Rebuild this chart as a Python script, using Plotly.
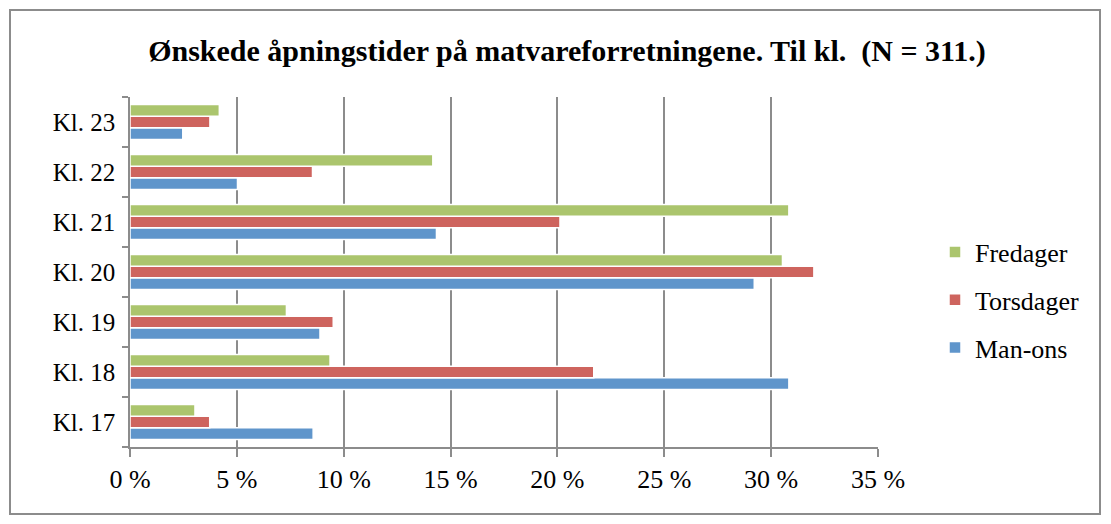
import plotly.graph_objects as go

categories = ["Kl. 17", "Kl. 18", "Kl. 19", "Kl. 20", "Kl. 21", "Kl. 22", "Kl. 23"]
man_ons = [8.57, 30.83, 8.89, 29.21, 14.34, 5.03, 2.47]
torsdager = [3.73, 21.7, 9.51, 32.0, 20.12, 8.54, 3.74]
fredager = [3.04, 9.36, 7.32, 30.53, 30.83, 14.17, 4.18]
tick_vals = [0, 5, 10, 15, 20, 25, 30, 35]
tick_text = [f"{v} %" for v in tick_vals]

series = [
    ("Man-ons", man_ons, "#5F95CB", 3),
    ("Torsdager", torsdager, "#CE645E", 2),
    ("Fredager", fredager, "#ABC56D", 1),
]

FONT = "Liberation Serif"
W, H = 1111, 524
L, R, T, B = 130, 233, 97, 77
pw, ph = W - L - R, H - T - B

fig = go.Figure()
for name, vals, col, rank in series:
    fig.add_trace(go.Bar(
        y=categories, x=vals, name=name, orientation="h",
        marker=dict(color=col, line=dict(color="white", width=1.5)),
        legendgroup=name, legendrank=rank,
    ))

grid = "#8C8C8C"
fig.update_layout(
    width=W, height=H,
    margin=dict(l=L, r=R, t=T, b=B),
    paper_bgcolor="white", plot_bgcolor="white",
    barmode="group", bargap=0.3, bargroupgap=0.0,
    font=dict(family=FONT, size=26, color="black"),
    title=dict(
        text="<b>Ønskede åpningstider på matvareforretningene. Til kl.  (N = 311.)</b>",
        x=(567 - L) / pw, xref="paper", xanchor="center",
        y=1 - 50 / H, yref="container", yanchor="middle",
        font=dict(family=FONT, size=30, color="black"),
    ),
    legend=dict(
        x=(935 - L) / pw, xanchor="left", y=(H - B - 300) / ph, yanchor="middle",
        traceorder="grouped", tracegroupgap=11, itemwidth=30,
        font=dict(family=FONT, size=26, color="black"),
        bgcolor="rgba(0,0,0,0)",
    ),
    xaxis=dict(
        range=[0, 35], tickvals=tick_vals, ticktext=tick_text,
        showgrid=True, gridcolor=grid, gridwidth=1.5,
        showline=True, linecolor=grid, linewidth=1.5,
        ticks="outside", ticklen=8, tickcolor=grid, tickwidth=1.5,
        zeroline=False, fixedrange=True,
        tickfont=dict(family=FONT, size=26),
    ),
    yaxis=dict(
        type="category", tickson="boundaries",
        showline=True, linecolor=grid, linewidth=1.5,
        ticks="outside", ticklen=6, tickcolor=grid, tickwidth=1.5,
        showgrid=False, fixedrange=True, ticklabelstandoff=8,
        tickfont=dict(family=FONT, size=25),
    ),
)

fig.add_shape(
    type="rect", xref="paper", yref="paper",
    x0=(10 - L) / pw, x1=(1100 - L) / pw,
    y0=(H - B - 514) / ph, y1=(H - B - 10) / ph,
    line=dict(color="#8C8C8C", width=2), fillcolor="rgba(0,0,0,0)", layer="below",
)

fig.write_html("out.html", config={"displayModeBar": False},
               post_script="document.body.style.margin='0';")
